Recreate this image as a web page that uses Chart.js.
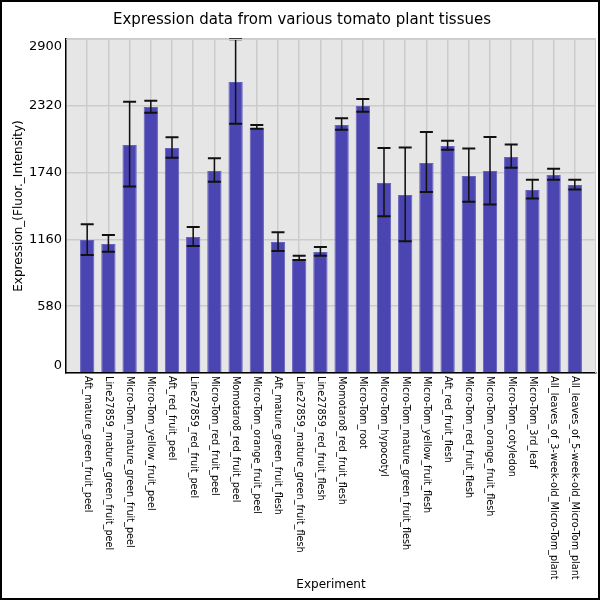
<!DOCTYPE html>
<html>
<head>
<meta charset="utf-8">
<script src="https://cdn.jsdelivr.net/npm/chart.js@4"></script>
<style>
  html, body { margin: 0; padding: 0; background: #fff; }
  #wrap { width: 600px; height: 600px; }
</style>
</head>
<body>
<div id="wrap"><canvas id="tomatoChart"></canvas></div>
<script>
// Tissues (x categories)
const experiments = [
    "Aft_mature_green_fruit_peel",
    "Line27859_mature_green_fruit_peel",
    "Micro-Tom_mature_green_fruit_peel",
    "Micro-Tom_yellow_fruit_peel",
    "Aft_red_fruit_peel",
    "Line27859_red_fruit_peel",
    "Micro-Tom_red_fruit_peel",
    "Momotaro8_red_fruit_peel",
    "Micro-Tom_orange_fruit_peel",
    "Aft_mature_green_fruit_flesh",
    "Line27859_mature_green_fruit_flesh",
    "Line27859_red_fruit_flesh",
    "Momotaro8_red_fruit_flesh",
    "Micro-Tom_root",
    "Micro-Tom_hypocotyl",
    "Micro-Tom_mature_green_fruit_flesh",
    "Micro-Tom_yellow_fruit_flesh",
    "Aft_red_fruit_flesh",
    "Micro-Tom_red_fruit_flesh",
    "Micro-Tom_orange_fruit_flesh",
    "Micro-Tom_cotyledon",
    "Micro-Tom_3rd_leaf",
    "All_leaves_of_3-week-old_Micro-Tom_plant",
    "All_leaves_of_5-week-old_Micro-Tom_plant"
];

// Mean expression
const expression = [
    1154, 1120, 1979, 2309, 1953, 1181, 1753, 2526, 2127, 1137, 990, 1050,
    2153, 2318, 1649, 1545, 1823, 1970, 1710, 1753, 1875, 1589, 1719, 1632
];

// Error bar ends
const errHigh = [
    1291, 1198, 2355, 2364, 2046, 1267, 1864, 2897, 2153, 1221, 1018, 1094,
    2211, 2378, 1953, 1959, 2092, 2017, 1950, 2049, 1985, 1678, 1773, 1678
];
const errLow = [
    1024, 1053, 1620, 2260, 1869, 1102, 1661, 2164, 2121, 1059, 981, 1018,
    2112, 2268, 1360, 1143, 1571, 1939, 1487, 1464, 1782, 1516, 1678, 1594
];

const yTicks = [0, 580, 1160, 1740, 2320, 2900];

const FONT = "'DejaVu Sans', sans-serif";

// grey plot background + outer frame
const backdrop = {
    id: 'backdrop',
    beforeDraw(chart) {
        const { ctx, chartArea: a } = chart;
        ctx.save();
        ctx.fillStyle = '#e6e6e6';
        ctx.fillRect(a.left, a.top, a.right - a.left, a.bottom - a.top);
        ctx.restore();
    },
    afterDraw(chart) {
        const { ctx, chartArea: a } = chart;
        ctx.save();
        ctx.strokeStyle = '#cfcfcf';
        ctx.lineWidth = 1;
        ctx.beginPath();
        ctx.moveTo(a.left, a.top + 0.5);
        ctx.lineTo(a.right - 0.5, a.top + 0.5);
        ctx.lineTo(a.right - 0.5, a.bottom);
        ctx.stroke();
        ctx.strokeStyle = '#000';
        ctx.lineWidth = 2;
        ctx.strokeRect(1, 1, chart.width - 2, chart.height - 2);
        ctx.restore();
    }
};

// error bars from errLow / errHigh
const errorBars = {
    id: 'errorBars',
    afterDatasetsDraw(chart) {
        const { ctx } = chart;
        const y = chart.scales.y;
        const bars = chart.getDatasetMeta(0).data;
        ctx.save();
        ctx.strokeStyle = '#111';
        bars.forEach((bar, i) => {
            const top = y.getPixelForValue(errHigh[i]);
            const bot = y.getPixelForValue(errLow[i]);
            ctx.lineWidth = 1.5;
            ctx.beginPath();
            ctx.moveTo(bar.x, top);
            ctx.lineTo(bar.x, bot);
            ctx.stroke();
            ctx.lineWidth = 2;
            ctx.beginPath();
            ctx.moveTo(bar.x - 6.5, top);
            ctx.lineTo(bar.x + 6.5, top);
            ctx.moveTo(bar.x - 6.5, bot);
            ctx.lineTo(bar.x + 6.5, bot);
            ctx.stroke();
        });
        ctx.restore();
    }
};

// tick labels: x labels read top-to-bottom, y end labels kept inside
const tickLabels = {
    id: 'tickLabels',
    afterDraw(chart) {
        const { ctx, chartArea: a } = chart;
        const x = chart.scales.x, y = chart.scales.y;
        ctx.save();
        ctx.fillStyle = '#000';
        ctx.font = '9.7px ' + FONT;
        ctx.textAlign = 'left';
        ctx.textBaseline = 'middle';
        experiments.forEach((lab, i) => {
            ctx.save();
            ctx.translate(x.getPixelForValue(i), a.bottom + 3);
            ctx.rotate(Math.PI / 2);
            ctx.fillText(lab, 0, 0);
            ctx.restore();
        });
        ctx.font = '13px ' + FONT;
        ctx.textAlign = 'right';
        yTicks.forEach(v => {
            let py = y.getPixelForValue(v);
            py = Math.min(Math.max(py, a.top + 8), a.bottom - 7);
            ctx.fillText(String(v), a.left - 4, py);
        });
        ctx.restore();
    }
};

const ctx = document.getElementById('tomatoChart').getContext('2d');

new Chart(ctx, {
    type: 'bar',
    data: {
        datasets: [{
            data: expression.map((v, i) => ({ x: i, y: v })),
            backgroundColor: '#4a45b1',
            borderColor: '#6561bf',
            borderWidth: 1,
            barPercentage: 0.675,
            categoryPercentage: 1.0
        }]
    },
    options: {
        responsive: true,
        maintainAspectRatio: false,
        animation: false,
        layout: { padding: { left: 8, right: 4, top: 1, bottom: 4 } },
        scales: {
            x: {
                type: 'linear',
                offset: false,
                min: -1,
                max: experiments.length,
                afterFit: s => { s.height = 223; },
                afterBuildTicks: s => { s.ticks = experiments.map((_, i) => ({ value: i })); },
                grid: { offset: false, color: '#cbcbcb', lineWidth: 1.5, drawTicks: false },
                border: { color: '#000', width: 1.5 },
                ticks: { display: false },
                title: {
                    display: true,
                    text: 'Experiment',
                    color: '#000',
                    font: { family: FONT, size: 12 },
                    padding: { top: 0, bottom: 4 }
                }
            },
            y: {
                min: 0,
                max: 2900,
                afterFit: s => { s.width = 58; },
                afterBuildTicks: s => { s.ticks = yTicks.map(v => ({ value: v })); },
                grid: { color: '#cbcbcb', lineWidth: 1.5, drawTicks: false },
                border: { color: '#000', width: 1.5 },
                ticks: { display: false },
                title: {
                    display: true,
                    text: 'Expression_(Fluor._Intensity)',
                    color: '#000',
                    font: { family: FONT, size: 12 },
                    padding: { top: 4, bottom: 0 }
                }
            }
        },
        plugins: {
            legend: { display: false },
            tooltip: { enabled: false },
            title: {
                display: true,
                text: 'Expression data from various tomato plant tissues',
                color: '#000',
                font: { family: FONT, size: 15, weight: 'normal' },
                padding: { top: 10, bottom: 10 }
            }
        }
    },
    plugins: [backdrop, errorBars, tickLabels]
});
</script>
</body>
</html>
